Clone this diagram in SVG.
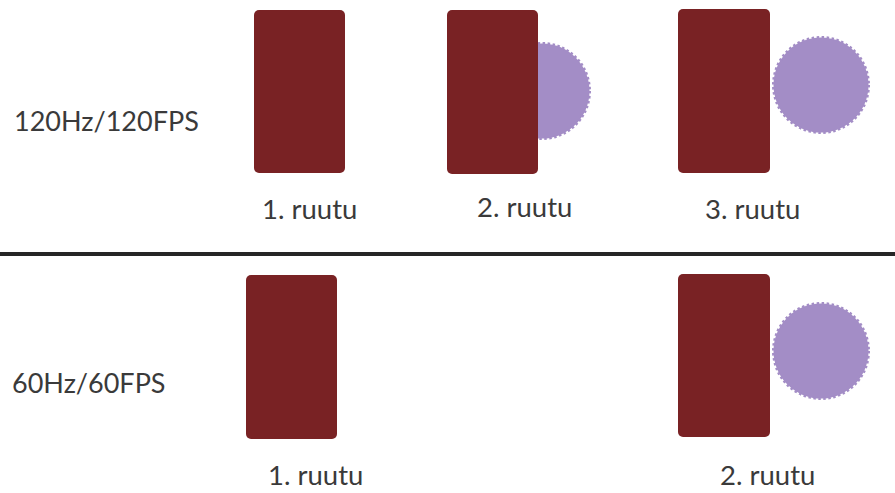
<svg xmlns="http://www.w3.org/2000/svg" width="895" height="493" viewBox="0 0 895 493">
<style>
.card{fill:#792224;}
.ball{fill:#a38dc6;stroke:#a38dc6;stroke-width:3;stroke-dasharray:2.49 2.49;}
.lbl{font-family:Lato,"Liberation Sans",sans-serif;font-size:27px;fill:#3a3a3a;}
.fr{font-family:Lato,"Liberation Sans",sans-serif;font-size:27.5px;fill:#3a3a3a;}
</style>
<rect width="895" height="493" fill="#ffffff"/>
<g id="row120">
<text class="lbl" x="14" y="131">120Hz/120FPS</text>
</g>
<g id="f120-1">
<rect class="card" x="254" y="10" width="91" height="163" rx="5"/>
<text class="fr" x="262" y="219">1. ruutu</text>
</g>
<g id="f120-2">
<circle class="ball" cx="542" cy="91" r="47.5"/>
<rect class="card" x="447" y="10" width="91" height="164" rx="5"/>
<text class="fr" x="477" y="217">2. ruutu</text>
</g>
<g id="f120-3">
<rect class="card" x="678" y="9" width="92" height="164" rx="5"/>
<circle class="ball" cx="821" cy="85" r="47.5"/>
<text class="fr" x="705" y="219">3. ruutu</text>
</g>
<g id="divider">
<line x1="0" y1="254" x2="895" y2="254" stroke="#262626" stroke-width="4"/>
</g>
<g id="row60">
<text class="lbl" x="12" y="393">60Hz/60FPS</text>
</g>
<g id="f60-1">
<rect class="card" x="246" y="275" width="91" height="164" rx="5"/>
<text class="fr" x="268" y="485">1. ruutu</text>
</g>
<g id="f60-2">
<rect class="card" x="678" y="274" width="92" height="163" rx="5"/>
<circle class="ball" cx="821" cy="351" r="47.5"/>
<text class="fr" x="720" y="485">2. ruutu</text>
</g>
</svg>
